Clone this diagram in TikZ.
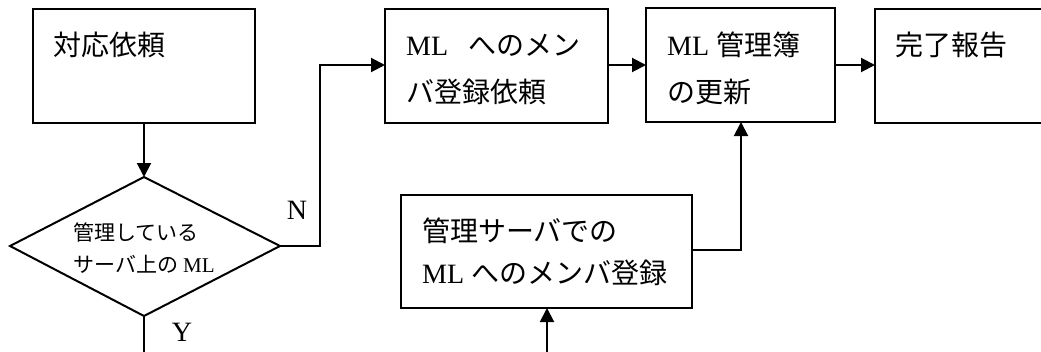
\documentclass[tikz,border=0pt]{standalone}
\usepackage{fontspec}
\setmainfont{Liberation Serif}
\newfontfamily\cjk{Noto Sans CJK JP}
\usetikzlibrary{arrows.meta}
\tikzset{
  box/.style={draw, line width=2pt, inner sep=0pt},
  lbl/.style={anchor=west, inner sep=0pt, font=\fontsize{28}{30}\selectfont},
  slbl/.style={anchor=west, inner sep=0pt, font=\fontsize{21}{23}\selectfont},
  conn/.style={line width=2pt},
  arr/.style={conn, -{Triangle[length=14pt, width=14pt]}},
}
\begin{document}
\begin{tikzpicture}[x=1pt, y=-1pt]
\clip (0,0) rectangle (1041,351);
\useasboundingbox (0,0) rectangle (1041,351);
% boxes
\draw[box] (33,9) rectangle (255,123);
\coordinate (b1t) at (144,123);
\draw[box] (385,9) rectangle (608,123);
\draw[box] (646,8) rectangle (835,122);
\draw[box] (875,9) rectangle (1050,123);
\draw[box] (401,195) rectangle (692,308);
% diamond
\coordinate (dT) at (144,177);
\coordinate (dL) at (10,246);
\coordinate (dR) at (280,246);
\coordinate (dB) at (144,316);
\draw[box, line join=miter] (dT) -- (dR) -- (dB) -- (dL) -- cycle;
% texts
\node[lbl] (t1) at (53,45) {\cjk 対応依頼};
\node[lbl] (t2a) at (406,45) {ML\hspace{20pt}{\cjk へのメン}};
\node[lbl] (t2b) at (406,92) {\cjk バ登録依頼};
\node[lbl] (t3a) at (667,45) {ML {\cjk 管理簿}};
\node[lbl] (t3b) at (667,92) {\cjk の更新};
\node[lbl] (t4) at (895,45) {\cjk 完了報告};
\node[lbl] (t5a) at (422,231) {\cjk 管理サーバでの};
\node[lbl] (t5b) at (422,273) {ML {\cjk へのメンバ登録}};
\node[slbl] (td1) at (73,232) {\cjk 管理している};
\node[slbl] (td2) at (73,264) {{\cjk サーバ上の} ML};
\node[lbl, anchor=center] (N) at (297,210) {N};
\node[lbl, anchor=center] (Y) at (182,332) {Y};
% connectors
\coordinate (b2w) at (385,65);
\coordinate (b2e) at (608,65);
\coordinate (b3w) at (646,65);
\coordinate (b3e) at (835,65);
\coordinate (b4w) at (875,65);
\coordinate (b3s) at (741,122);
\coordinate (b5e) at (692,250);
\coordinate (b5s) at (547,308);
\coordinate (bot) at (547,355);
\coordinate (ybot) at (144,355);
\draw[arr] (b1t) -- (dT);
\draw[arr] (dR) -- (320,246) -- (320,65) -- (b2w);
\draw[arr] (b2e) -- (b3w);
\draw[arr] (b3e) -- (b4w);
\draw[arr] (b5e) -- (741,250) -- (b3s);
\draw[arr] (bot) -- (b5s);
\draw[conn] (dB) -- (ybot);
\end{tikzpicture}
\end{document}
